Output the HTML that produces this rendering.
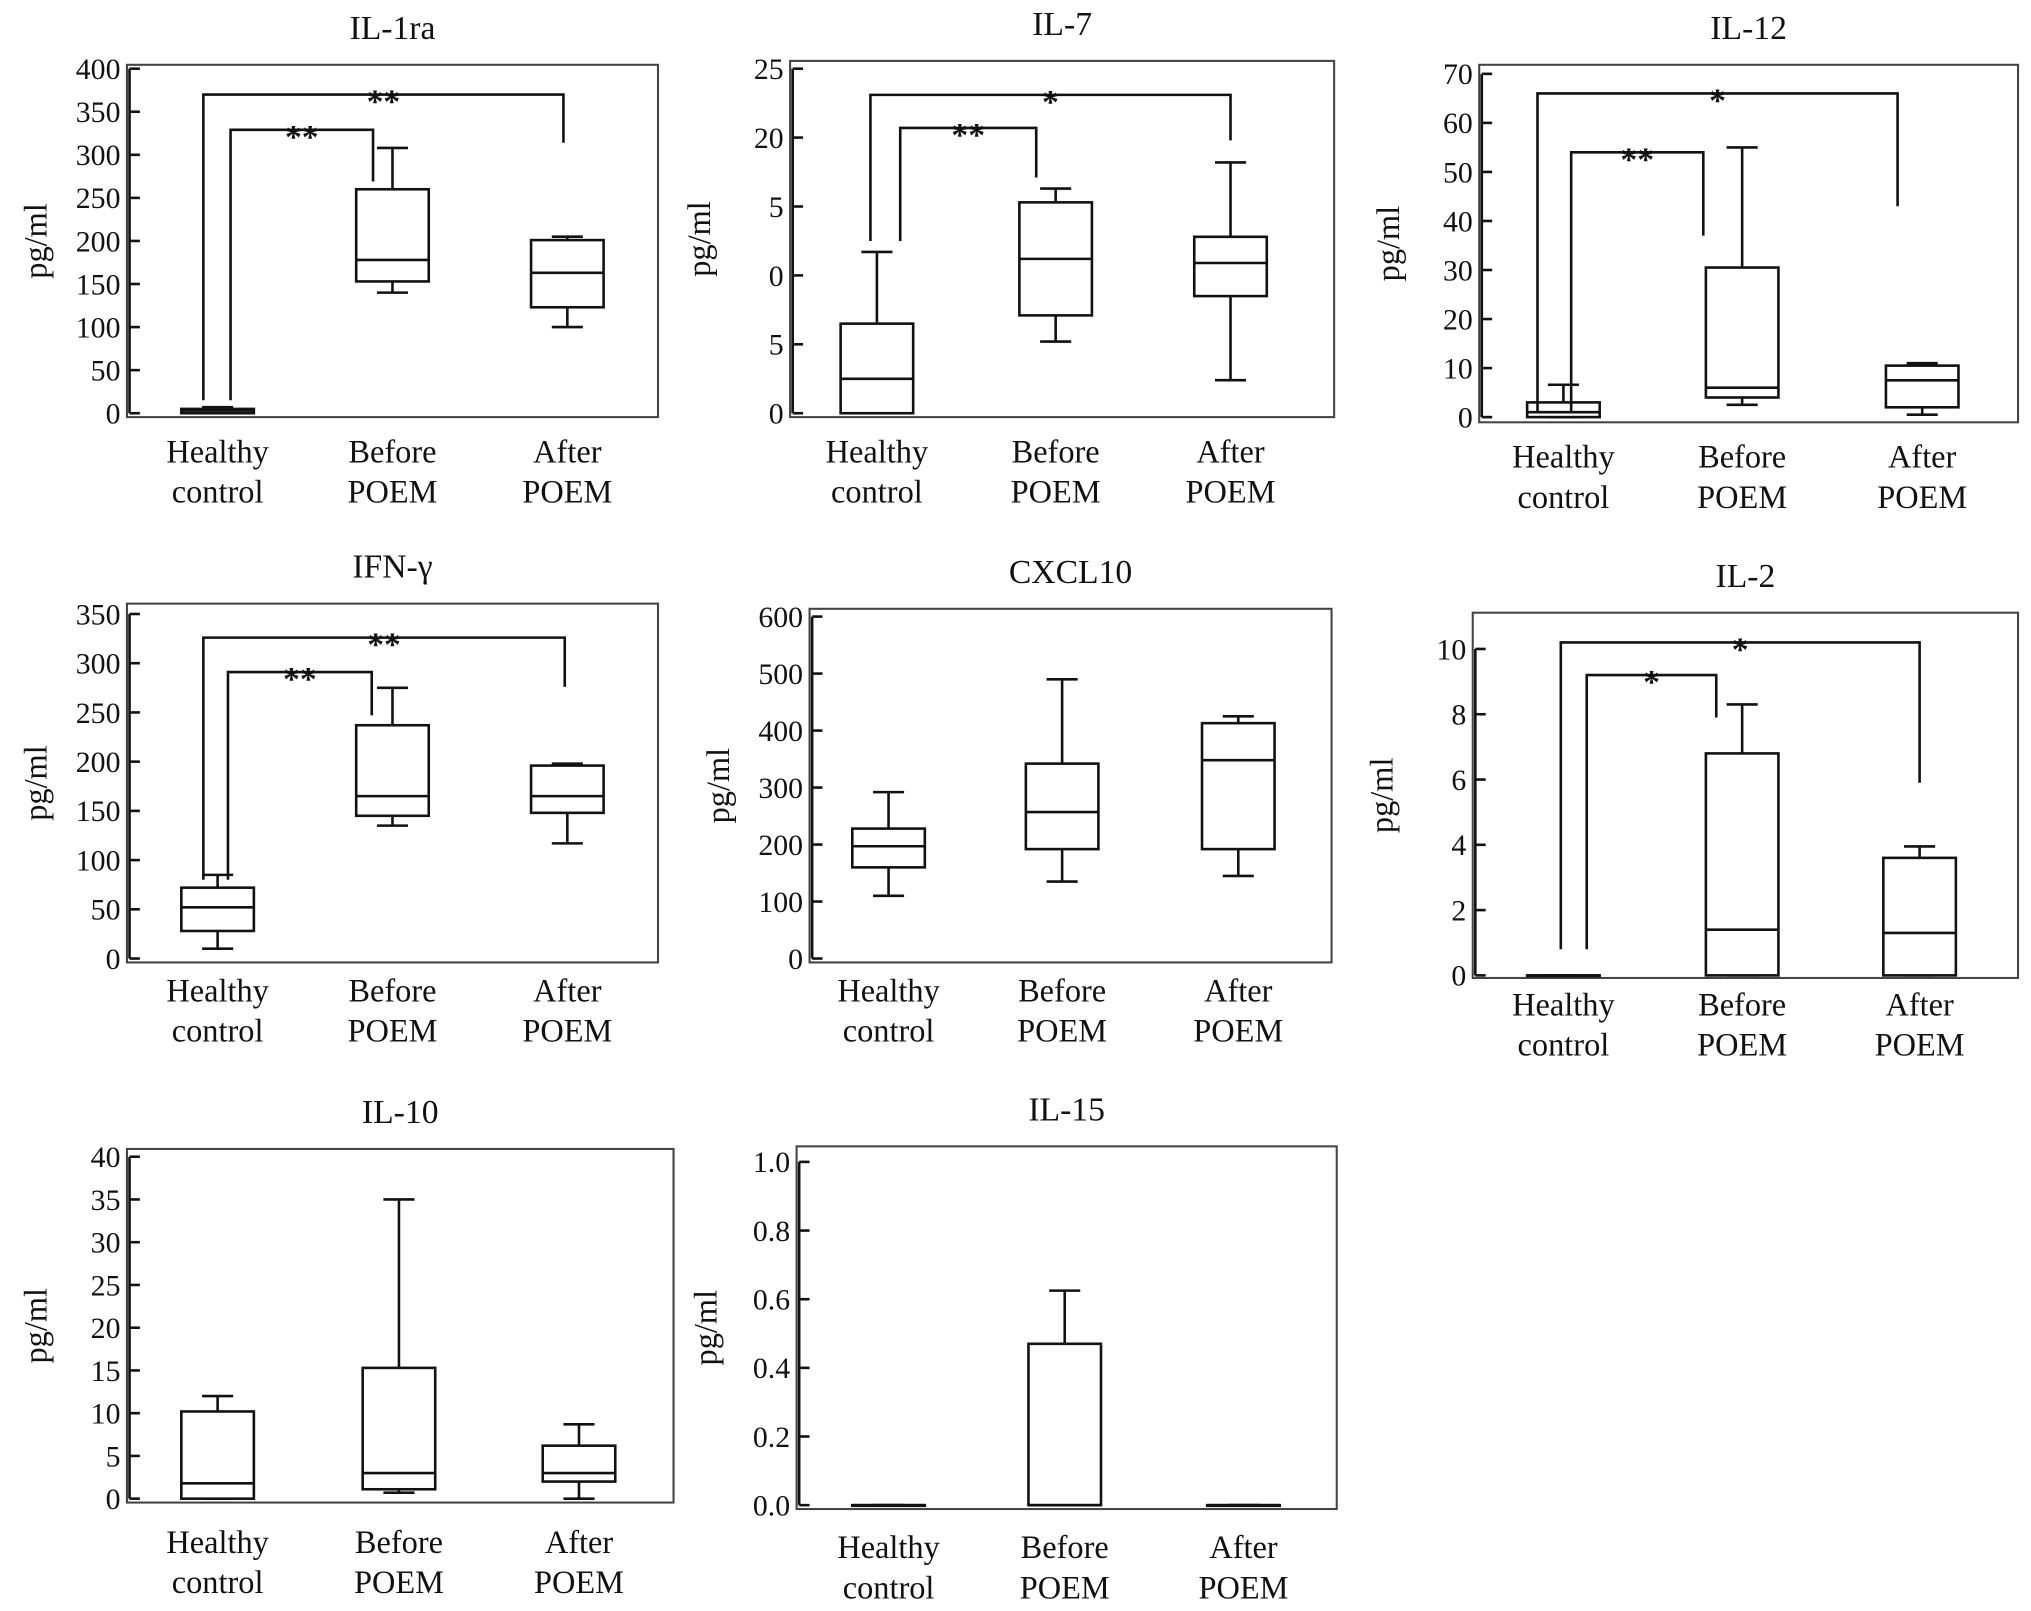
<!DOCTYPE html>
<html><head><meta charset="utf-8"><style>
html,body{margin:0;padding:0;background:#fff}
svg{display:block}
svg text{font-family:"Liberation Serif","DejaVu Serif",serif;fill:#111}
</style></head><body>
<svg id="fig" width="2031" height="1611" viewBox="0 0 1568 1243.7" font-family="Liberation Serif, DejaVu Serif, serif" xmlns="http://www.w3.org/2000/svg"></svg>
<script>
const categories = [["Healthy","control"],["Before","POEM"],["After","POEM"]];
// five-number summaries [min,q1,median,q3,max] per category
const il1raBoxes = [[0,0,3,5,7],[140,153,178,260,308],[100,123,163,201,205]];
const il7Boxes = [[0,0,2.5,6.5,11.7],[5.2,7.1,11.2,15.3,16.3],[2.4,8.5,10.9,12.8,18.2]];
const il12Boxes = [[0,0,1,3,6.6],[2.5,4,6,30.5,55],[0.5,2,7.5,10.5,11]];
const ifngBoxes = [[10,28,52,72,85],[135,145,165,237,275],[117,148,165,196,198]];
const cxcl10Boxes = [[110,160,197,228,292],[135,192,257,342,490],[145,192,348,413,425]];
const il2Boxes = [[0,0,0,0,0],[0,0,1.4,6.8,8.3],[0,0,1.3,3.6,3.95]];
const il10Boxes = [[0,0,1.8,10.2,12],[0.7,1.1,3,15.3,35],[0,2,3,6.2,8.7]];
const il15Boxes = [[0,0,0,0,0],[0,0,0,0.47,0.625],[0,0,0,0,0]];
// tick values / labels
const il1raTicks = [0,50,100,150,200,250,300,350,400];
const il7Ticks = [0,5,10,15,20,25];
const il7TickLabels = ["0","5","0","5","20","25"];
const il12Ticks = [0,10,20,30,40,50,60,70];
const ifngTicks = [0,50,100,150,200,250,300,350];
const cxcl10Ticks = [0,100,200,300,400,500,600];
const il2Ticks = [0,2,4,6,8,10];
const il10Ticks = [0,5,10,15,20,25,30,35,40];
const il15Ticks = [0,0.2,0.4,0.6,0.8,1.0];
const il15TickLabels = ["0.0","0.2","0.4","0.6","0.8","1.0"];
// significance brackets [fromCat,toCat,barValue,leftEnd,rightEnd,stars]
const il1raSig = [[0,1,329,15,269,"**"],[0,2,370,15,314,"**"]];
const il7Sig = [[0,1,20.7,12.5,17.1,"**"],[0,2,23.1,12.5,19.8,"*"]];
const il12Sig = [[0,1,54,1,37,"**"],[0,2,66,1,43,"*"]];
const ifngSig = [[0,1,291,80,247,"**"],[0,2,326,80,276,"**"]];
const il2Sig = [[0,1,9.2,0.8,7.9,"*"],[0,2,10.2,0.8,5.9,"*"]];

const panels = [
 {id:"il-1ra",title:"IL-1ra",boxes:il1raBoxes,ticks:il1raTicks,x0:98,x1:508,y0:50,y1:322,yz:319,yt:53,cx:[168,303,438],ly:349,sig:il1raSig,sx:[[178,288],[157,435]]},
 {id:"il-7",title:"IL-7",boxes:il7Boxes,ticks:il7Ticks,labels:il7TickLabels,x0:610,x1:1030,y0:47,y1:322,yz:319,yt:53,cx:[677,815,950],ly:349,sig:il7Sig,sx:[[695,800],[672,950]]},
 {id:"il-12",title:"IL-12",boxes:il12Boxes,ticks:il12Ticks,x0:1142,x1:1558,y0:50,y1:326,yz:322,yt:57,cx:[1207,1345,1484],ly:353,sig:il12Sig,sx:[[1213,1315],[1187,1465]]},
 {id:"ifn-gamma",title:"IFN-γ",boxes:ifngBoxes,ticks:ifngTicks,x0:98,x1:508,y0:466,y1:743,yz:740,yt:474,cx:[168,303,438],ly:765,sig:ifngSig,sx:[[176,287],[157,436]]},
 {id:"cxcl10",title:"CXCL10",boxes:cxcl10Boxes,ticks:cxcl10Ticks,x0:625,x1:1028,y0:470,y1:743,yz:740,yt:476,cx:[686,820,956],ly:765},
 {id:"il-2",title:"IL-2",boxes:il2Boxes,ticks:il2Ticks,x0:1137,x1:1558,y0:473,y1:755,yz:753,yt:501,cx:[1207,1345,1482],ly:776,sig:il2Sig,sx:[[1225,1325],[1205,1482]]},
 {id:"il-10",title:"IL-10",boxes:il10Boxes,ticks:il10Ticks,x0:98,x1:520,y0:887,y1:1160,yz:1157,yt:893,cx:[168,308,447],ly:1191},
 {id:"il-15",title:"IL-15",boxes:il15Boxes,ticks:il15Ticks,labels:il15TickLabels,x0:615,x1:1032,y0:885,y1:1165,yz:1162,yt:897,cx:[686,822,960],ly:1195}
];
const NS="http://www.w3.org/2000/svg";
const svg=document.getElementById("fig");
const FONT="Liberation Serif, DejaVu Serif, serif";
function mk(tag,parent,attrs,name){const e=document.createElementNS(NS,tag);for(const k in attrs)e.setAttribute(k,attrs[k]);
 
 
 if(tag==="text")e.setAttribute("font-family",FONT);
 parent.appendChild(e);return e;}
const S={stroke:"#111","stroke-width":2,fill:"none"};
panels.forEach(p=>{
 const g=mk("g",svg,{},"panel-"+p.id);
 const tmax=p.ticks[p.ticks.length-1];
 const y=v=>p.yz-(v/tmax)*(p.yz-p.yt);
 const t=mk("text",g,{x:(p.x0+p.x1)/2,y:p.y0-20,"text-anchor":"middle","font-size":26},"chart-title");t.textContent=p.title;
 mk("rect",g,Object.assign({x:p.x0,y:p.y0,width:p.x1-p.x0,height:p.y1-p.y0},S,{"stroke-width":1.6,stroke:"#444"}),"plot-frame");
 mk("line",g,Object.assign({x1:p.x0+2,x2:p.x0+2,y1:y(0),y2:y(tmax)},S),"y-axis-line");
 p.ticks.forEach((v,i)=>{
  mk("line",g,Object.assign({x1:p.x0+2,x2:p.x0+10,y1:y(v),y2:y(v)},S),"y-tick");
  const tl=mk("text",g,{x:p.x0-5,y:y(v)+8,"text-anchor":"end","font-size":23},"y-tick-label");
  tl.textContent=p.labels?p.labels[i]:String(v);
 });
 const yl=mk("text",g,{x:0,y:0,"text-anchor":"middle","font-size":25,transform:`translate(${p.x0-62},${(p.y0+p.y1)/2}) rotate(-90)`},"y-axis-title");yl.textContent="pg/ml";
 p.boxes.forEach((b,i)=>{
  const cx=p.cx[i],hw=28;
  const bg=mk("g",g,{},"box-"+categories[i].join("-").toLowerCase());
  mk("line",bg,Object.assign({x1:cx,x2:cx,y1:y(b[0]),y2:y(b[1])},S),"lower-whisker");
  mk("line",bg,Object.assign({x1:cx,x2:cx,y1:y(b[3]),y2:y(b[4])},S),"upper-whisker");
  mk("line",bg,Object.assign({x1:cx-12,x2:cx+12,y1:y(b[0]),y2:y(b[0])},S),"min-cap");
  mk("line",bg,Object.assign({x1:cx-12,x2:cx+12,y1:y(b[4]),y2:y(b[4])},S),"max-cap");
  mk("rect",bg,Object.assign({x:cx-hw,y:y(b[3]),width:2*hw,height:Math.max(y(b[1])-y(b[3]),0.5)},S,{fill:"#fff"}),"iqr-box");
  mk("line",bg,Object.assign({x1:cx-hw,x2:cx+hw,y1:y(b[2]),y2:y(b[2])},S),"median-line");
  categories[i].forEach((w,k)=>{const c=mk("text",g,{x:cx,y:p.ly+k*31+8,"text-anchor":"middle","font-size":25},"x-category-label");c.textContent=w;});
 });
 if(p.sig) p.sig.forEach((s,j)=>{
  const [xa,xb]=p.sx[j];
  mk("polyline",g,Object.assign({points:`${xa},${y(s[3])} ${xa},${y(s[2])} ${xb},${y(s[2])} ${xb},${y(s[4])}`},S),"significance-bracket");
  const st=mk("text",g,{x:(xa+xb)/2,y:y(s[2])+14,"text-anchor":"middle","font-size":26,"font-weight":"bold"},"significance-stars");st.textContent=s[5];
 });
});
</script>
</body></html>
